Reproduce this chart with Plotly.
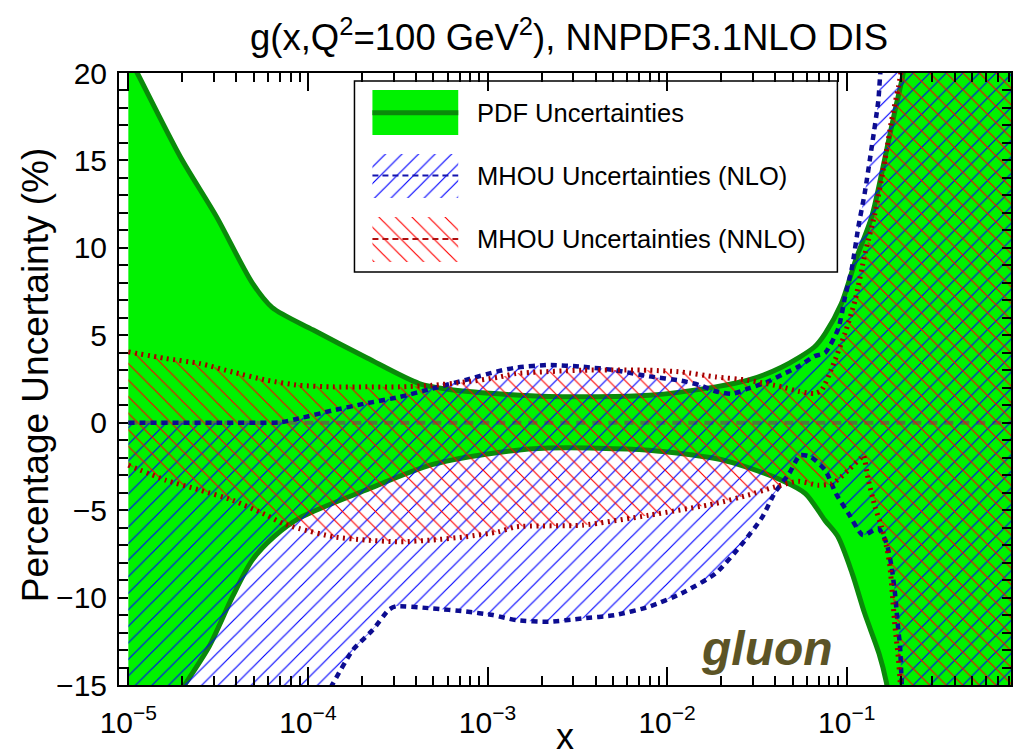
import plotly.graph_objects as go

# ---------------- data (log10 x , percentage uncertainty) ----------------
pdf_up_lx = [-5.0, -4.95, -4.71, -4.51, -4.31, -4.20, -3.97, -3.67, -3.38, -3.21, -2.94, -2.66,
             -2.10, -1.73, -1.55, -1.36, -1.18, -1.12, -1.03, -0.95, -0.86, -0.79, -0.73, -0.685,
             -0.60, -0.05]
pdf_up_y = [21.0, 20.0, 15.2, 11.8, 8.0, 6.6, 5.3, 3.7, 2.24, 1.9, 1.65, 1.5,
            1.57, 2.05, 2.43, 3.19, 4.33, 5.1, 6.8, 9.3, 11.8, 15.0, 17.9, 20.0,
            26.0, 45.0]

pdf_lo_lx = [-5.0, -4.68, -4.55, -4.42, -4.31, -4.19, -4.05, -3.68, -3.31, -2.94, -2.66, -2.10,
             -1.73, -1.60, -1.36, -1.23, -1.12, -1.05, -0.97, -0.90, -0.82, -0.78, -0.70, -0.05]
pdf_lo_y = [-20.0, -14.9, -12.8, -9.95, -7.86, -6.53, -5.47, -3.86, -2.4, -1.7, -1.45, -1.57,
            -2.05, -2.4, -3.3, -4.05, -5.6, -6.5, -8.6, -10.9, -13.2, -14.8, -20.0, -45.0]

nlo_up_lx = [-5.0, -4.5, -4.16, -4.05, -3.86, -3.68, -3.49, -3.31, -3.12, -2.94, -2.84, -2.66,
             -2.47, -2.29, -2.10, -1.92, -1.82, -1.73, -1.64, -1.55, -1.45, -1.36, -1.27, -1.18,
             -1.12, -1.046, -1.009, -0.97, -0.935, -0.90, -0.86, -0.824, -0.80, -0.05]
nlo_up_y = [0.0, 0.0, 0.02, 0.24, 0.71, 1.1, 1.47, 1.95, 2.45, 2.95, 3.15, 3.3,
            3.2, 3.0, 2.65, 2.4, 2.15, 1.8, 1.65, 1.95, 2.3, 2.75, 3.2, 3.8,
            4.0, 5.4, 7.2, 8.9, 11.2, 13.1, 15.8, 18.4, 21.0, 45.0]

nlo_lo_lx = [-5.0, -4.0, -3.86, -3.75, -3.64, -3.55, -3.51, -3.31, -3.12, -2.97, -2.84, -2.66,
             -2.47, -2.29, -2.10, -1.92, -1.73, -1.58, -1.47, -1.40, -1.32, -1.26, -1.20, -1.12,
             -1.06, -0.99, -0.91, -0.824, -0.778, -0.75, -0.731, -0.716, -0.703, -0.694, -0.68, -0.05]
nlo_lo_y = [-30.0, -17.4, -14.9, -13.0, -11.86, -10.7, -10.5, -10.62, -10.8, -11.0, -11.29, -11.38,
            -11.19, -11.0, -10.52, -9.76, -8.62, -6.9, -5.4, -4.0, -2.9, -1.86, -1.95, -2.71,
            -4.05, -5.19, -6.43, -6.05, -6.9, -8.24, -9.76, -11.48, -12.81, -14.8, -17.0, -45.0]

nnlo_up_lx = [-5.0, -4.79, -4.60, -4.42, -4.23, -4.05, -3.86, -3.68, -3.49, -3.31, -3.12, -2.94,
              -2.84, -2.47, -2.10, -1.92, -1.73, -1.55, -1.36, -1.27, -1.18, -1.14, -1.08, -1.01,
              -0.953, -0.898, -0.843, -0.787, -0.75, -0.712, -0.68, -0.05]
nnlo_up_y = [4.05, 3.67, 3.38, 2.9, 2.43, 2.14, 2.05, 2.05, 2.05, 2.14, 2.33, 2.6,
             2.81, 3.0, 3.0, 2.9, 2.62, 2.43, 2.05, 1.8, 1.67, 1.86, 3.19, 5.1,
             7.0, 9.67, 11.95, 15.0, 17.3, 19.2, 21.0, 45.0]

nnlo_lo_lx = [-5.0, -4.79, -4.60, -4.42, -4.23, -4.14, -4.05, -3.86, -3.68, -3.49, -3.31, -3.12,
              -2.94, -2.84, -2.47, -2.10, -1.73, -1.55, -1.40, -1.27, -1.16, -1.08, -0.99, -0.92,
              -0.907, -0.879, -0.842, -0.806, -0.778, -0.759, -0.746, -0.731, -0.713, -0.703, -0.69, -0.05]
nnlo_lo_y = [-2.43, -3.29, -3.86, -4.43, -5.29, -5.76, -6.05, -6.52, -6.71, -6.81, -6.71, -6.52,
             -6.24, -5.95, -5.86, -5.29, -4.62, -4.14, -3.67, -3.35, -3.57, -3.48, -2.71, -2.0,
             -1.86, -3.29, -4.81, -5.95, -7.1, -8.24, -9.76, -11.67, -13.38, -14.71, -17.0, -45.0]

central_lx = [-5.0, -0.05]
central_y = [0.0, 0.0]

x_tick_vals = [1e-5, 1e-4, 1e-3, 1e-2, 1e-1]
x_tick_text = ["10<sup>\u22125</sup>", "10<sup>\u22124</sup>", "10<sup>\u22123</sup>",
               "10<sup>\u22122</sup>", "10<sup>\u22121</sup>"]
y_tick_vals = [-15, -10, -5, 0, 5, 10, 15, 20]

legend_labels = ["PDF Uncertainties", "MHOU Uncertainties (NLO)", "MHOU Uncertainties (NNLO)"]
title_text = "g(x,Q<sup>2</sup>=100 GeV<sup>2</sup>), NNPDF3.1NLO DIS"

# ---------------- styles ----------------
FONT = "Liberation Sans, Arial, Helvetica, sans-serif"
GREEN = "#00f200"
DGREEN = "#0a8a0a"
BLUE_H = "#0000ff"
RED_H = "#ff0000"
NAVY = "#0c0c90"
DRED = "#a50000"
PSIZE = 11.7
PSOL = 0.1
NONE = "rgba(0,0,0,0)"

def X(lx):
    return [10 ** v for v in lx]

fig = go.Figure()

def add_band(lx_lo, y_lo, lx_up, y_up, smooth, fillcolor=NONE, pattern=None):
    fig.add_trace(go.Scatter(x=X(lx_lo), y=y_lo, mode="lines",
                             line=dict(width=0, shape="spline", smoothing=smooth),
                             hoverinfo="skip", showlegend=False))
    kw = {}
    if pattern is not None:
        kw["fillpattern"] = pattern
    fig.add_trace(go.Scatter(x=X(lx_up), y=y_up, mode="lines", fill="tonexty",
                             fillcolor=fillcolor,
                             line=dict(width=0, shape="spline", smoothing=smooth),
                             hoverinfo="skip", showlegend=False, **kw))

def add_line(lx, yy, color, width, dash, smooth):
    fig.add_trace(go.Scatter(x=X(lx), y=yy, mode="lines",
                             line=dict(color=color, width=width, dash=dash,
                                       shape="spline", smoothing=smooth),
                             hoverinfo="skip", showlegend=False))

# PDF band
add_band(pdf_lo_lx, pdf_lo_y, pdf_up_lx, pdf_up_y, 0.8, fillcolor=GREEN)
add_line(central_lx, central_y, "#4a7e3a", 4, "9px,7px", 0)
add_line(pdf_up_lx, pdf_up_y, DGREEN, 5, "solid", 0.8)
add_line(pdf_lo_lx, pdf_lo_y, DGREEN, 5, "solid", 0.8)

# NLO band (blue hatch /) and NNLO band (red hatch \)
add_band(nlo_lo_lx, nlo_lo_y, nlo_up_lx, nlo_up_y, 0.6,
         pattern=dict(shape="/", size=PSIZE, solidity=PSOL, fgcolor=BLUE_H,
                      bgcolor=NONE, fillmode="replace"))
add_band(nnlo_lo_lx, nnlo_lo_y, nnlo_up_lx, nnlo_up_y, 0.6,
         pattern=dict(shape="\\", size=PSIZE, solidity=PSOL, fgcolor=RED_H,
                      bgcolor=NONE, fillmode="replace"))

add_line(nlo_up_lx, nlo_up_y, NAVY, 4.5, "6px,5px", 0.6)
add_line(nlo_lo_lx, nlo_lo_y, NAVY, 4.5, "6px,5px", 0.6)
add_line(nnlo_up_lx, nnlo_up_y, DRED, 5, "2px,4.5px", 0.6)
add_line(nnlo_lo_lx, nnlo_lo_y, DRED, 5, "2px,4.5px", 0.6)

# ---------------- layout geometry (pixels) ----------------
W, H = 1014, 749
L, R, T, B = 119, 1013, 73, 685

def px(xp):
    return (xp - L) / (R - L)

def py(yp):
    return (B - yp) / (B - T)

# custom legend drawn on an overlay pixel axis
LX0, LX1 = 373, 459
leg_rows = [(90, 135, 112.7), (154, 198, 175.5), (217, 262, 239.0)]
fig.add_shape(type="rect", xref="x2", yref="y2", x0=355, x1=839, y0=81, y1=272,
              line=dict(color="black", width=1.5), fillcolor="white", layer="below")
r0 = leg_rows[0]
fig.add_trace(go.Scatter(x=[LX0, LX1, LX1, LX0, LX0], y=[r0[0], r0[0], r0[1], r0[1], r0[0]],
                         xaxis="x2", yaxis="y2", fill="toself", fillcolor=GREEN, mode="lines",
                         line=dict(width=0), hoverinfo="skip", showlegend=False))
fig.add_trace(go.Scatter(x=[LX0, LX1], y=[r0[2], r0[2]], xaxis="x2", yaxis="y2", mode="lines",
                         line=dict(color=DGREEN, width=5), showlegend=False))
for (ya, yb, yc), shp, fg, lc in [(leg_rows[1], "/", BLUE_H, "#1515b0"),
                                   (leg_rows[2], "\\", RED_H, "#b01010")]:
    fig.add_trace(go.Scatter(x=[LX0, LX1, LX1, LX0, LX0], y=[ya, ya, yb, yb, ya],
                             xaxis="x2", yaxis="y2", fill="toself", fillcolor=NONE,
                             mode="lines", line=dict(width=0), hoverinfo="skip", showlegend=False,
                             fillpattern=dict(shape=shp, size=PSIZE, solidity=PSOL, fgcolor=fg,
                                              bgcolor=NONE, fillmode="replace")))
    fig.add_trace(go.Scatter(x=[LX0, LX1], y=[yc, yc], xaxis="x2", yaxis="y2", mode="lines",
                             line=dict(color=lc, width=2, dash="6px,4px"), showlegend=False))

annotations = []
for (ya, yb, yc), lab in zip(leg_rows, legend_labels):
    annotations.append(dict(x=476, y=yc, xref="x2", yref="y2", text=lab, showarrow=False,
                            xanchor="left", yanchor="middle",
                            font=dict(family=FONT, size=25.5, color="black")))
annotations.append(dict(x=768, y=648, xref="x2", yref="y2", text="<b><i>gluon</i></b>",
                        showarrow=False, xanchor="center", yanchor="middle",
                        font=dict(family=FONT, size=48, color="#5c5426")))
annotations.append(dict(x=px(570), y=py(35), xref="paper", yref="paper", text=title_text,
                        showarrow=False, xanchor="center", yanchor="middle",
                        font=dict(family=FONT, size=36.5, color="black")))
annotations.append(dict(x=px(35), y=py(375), xref="paper", yref="paper",
                        text="Percentage Uncertainty (%)", textangle=-90, showarrow=False,
                        xanchor="center", yanchor="middle",
                        font=dict(family=FONT, size=37, color="black")))
annotations.append(dict(x=px(566), y=py(736), xref="paper", yref="paper", text="x",
                        showarrow=False, xanchor="center", yanchor="middle",
                        font=dict(family=FONT, size=36, color="black")))

minor_x = [m * 10 ** e for e in range(-5, 0) for m in range(2, 10)]

fig.update_layout(
    width=W, height=H,
    margin=dict(l=L, r=W - R, t=T, b=H - B, pad=0),
    paper_bgcolor="white", plot_bgcolor="white",
    showlegend=False,
    font=dict(family=FONT, color="black"),
    annotations=annotations,
    xaxis=dict(type="log", range=[-5.052, -0.085], showgrid=False, zeroline=False,
               showline=True, linecolor="black", linewidth=2, mirror="ticks",
               ticks="inside", ticklen=18, tickwidth=1.5, tickcolor="black",
               tickmode="array", tickvals=x_tick_vals, ticktext=x_tick_text,
               tickfont=dict(family=FONT, size=30), ticklabelstandoff=10,
               minor=dict(ticks="inside", ticklen=9, tickwidth=1.5, tickcolor="black",
                          tickmode="array", tickvals=minor_x, showgrid=False)),
    yaxis=dict(range=[-15, 20], showgrid=False, zeroline=False,
               showline=True, linecolor="black", linewidth=2, mirror="ticks",
               ticks="inside", ticklen=9, tickwidth=1.5, tickcolor="black",
               tickmode="array", tickvals=y_tick_vals,
               tickfont=dict(family=FONT, size=30), ticklabelstandoff=4,
               minor=dict(ticks="inside", ticklen=9, tickwidth=1.5, tickcolor="black",
                          dtick=1, showgrid=False)),
    xaxis2=dict(overlaying="x", range=[L, R], visible=False, showgrid=False, zeroline=False),
    yaxis2=dict(overlaying="y", range=[B, T], visible=False, showgrid=False, zeroline=False),
)

fig.write_html("out.html")
